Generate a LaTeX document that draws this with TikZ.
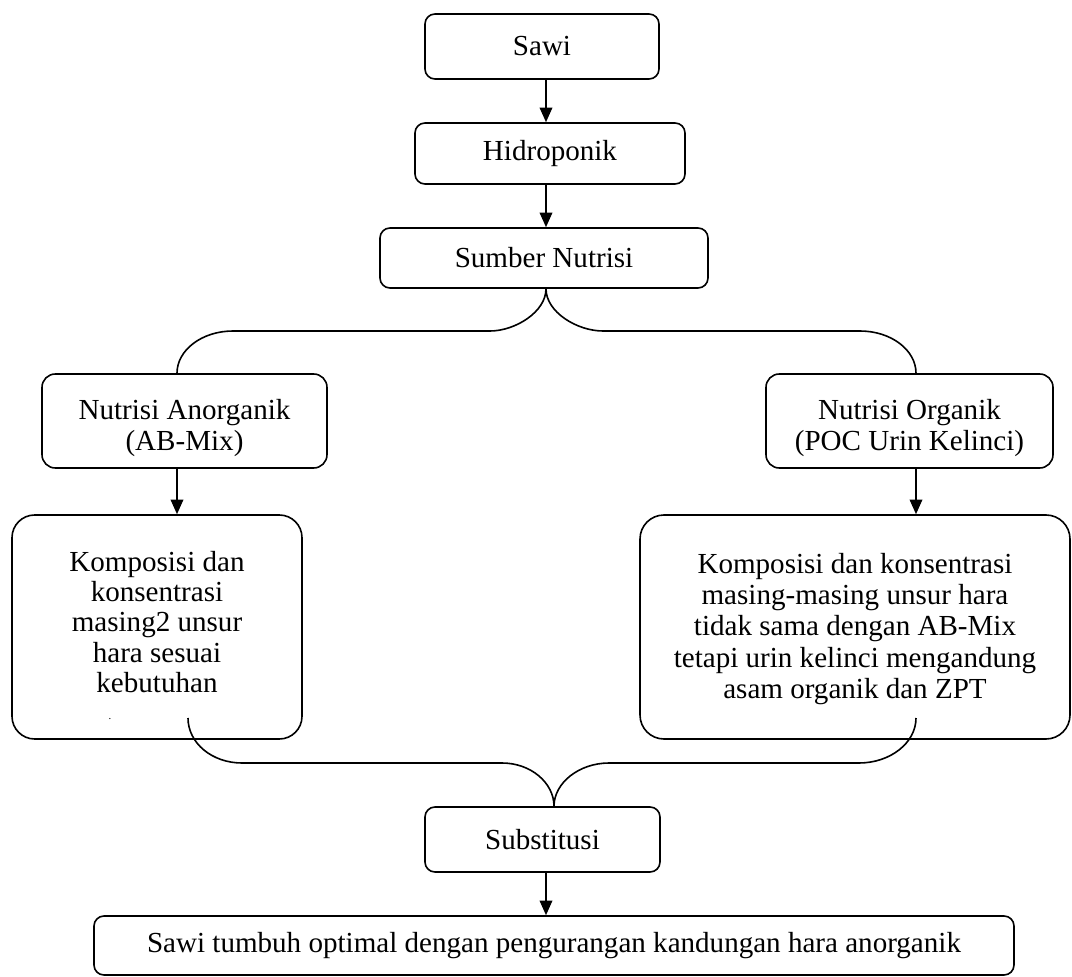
\documentclass[tikz,border=0pt]{standalone}
\usepackage{fontspec}
\setmainfont{Liberation Serif}
\usetikzlibrary{arrows.meta,calc}
\newcommand{\fs}{\fontsize{21.8}{23.6}\selectfont}
\begin{document}
\begin{tikzpicture}[x=0.75pt,y=-0.75pt,
  box/.style={draw,line width=1.2pt,rounded corners=7.5pt,inner sep=0pt,align=center,font=\fs},
  txt/.style={font=\fs,align=center,inner sep=0pt},
  conn/.style={line width=1.2pt},
  arr/.style={line width=1.2pt,-{Triangle[length=11pt,width=9.5pt]}}]
\useasboundingbox (0,0) rectangle (1072,977);

\node[box,minimum width=175.5pt,minimum height=48.75pt] (sawi) at (542,46.5) {Sawi};
\node[box,minimum width=202.5pt,minimum height=45.75pt] (hidro) at (550,153.5) {Hidroponik};
\node[box,minimum width=246pt,minimum height=45pt] (sumber) at (544,258) {Sumber Nutrisi};
\node[box,rounded corners=10pt,minimum width=213.75pt,minimum height=70.5pt] (anorg) at (184.5,421) {};
\node[txt] (anorgtext) at (184.5,428) {Nutrisi Anorganik\\(AB-Mix)};
\node[box,rounded corners=10pt,minimum width=215.25pt,minimum height=70.5pt] (org) at (909.5,421) {};
\node[txt] (orgtext) at (909.5,428) {Nutrisi Organik\\(POC Urin Kelinci)};
\node[box,rounded corners=17pt,minimum width=217.5pt,minimum height=168pt] (leftbig) at (157,627) {};
\node[font=\fontsize{21.8}{22.6}\selectfont,align=center,inner sep=0pt] (lefttext) at (157,622) {Komposisi dan\\konsentrasi\\masing2 unsur\\hara sesuai\\kebutuhan};
\node[anchor=base,inner sep=0pt,font=\fontsize{8}{8}\selectfont] (dot) at (110,719) {.};
\node[box,rounded corners=18pt,minimum width=322.5pt,minimum height=168pt] (rightbig) at (855,627) {};
\node[txt] (righttext) at (855,629) {Komposisi dan konsentrasi\\masing-masing unsur hara\\tidak sama dengan AB-Mix\\tetapi urin kelinci mengandung\\asam organik dan ZPT};
\node[box,minimum width=176.25pt,minimum height=48.75pt] (subst) at (542.5,839.5) {Substitusi};
\node[box,minimum width=690pt,minimum height=44.25pt] (final) at (554,945.5) {Sawi tumbuh optimal dengan pengurangan kandungan hara anorganik};

\coordinate (c1) at (546,0);
\coordinate (cl) at (177,0);
\coordinate (cr) at (916,0);
\coordinate (cm) at (554,0);
\coordinate (lstart) at (188,718);
\coordinate (rstart) at (916,718);

\draw[arr] (sawi.south -| c1) -- (hidro.north -| c1);
\draw[arr] (hidro.south -| c1) -- (sumber.north -| c1);

\draw[conn] (sumber.south -| c1) .. controls (546,312) and (515,331) .. (490,331) -- (233,331)
  .. controls (202,331) and (177,350) .. (anorg.north -| cl);
\draw[conn] (sumber.south -| c1) .. controls (546,312) and (577,331) .. (603,331) -- (860,331)
  .. controls (891,331) and (916,350) .. (org.north -| cr);

\draw[arr] (anorg.south -| cl) -- (leftbig.north -| cl);
\draw[arr] (org.south -| cr) -- (rightbig.north -| cr);

\draw[conn] (lstart) .. controls (188,743) and (212,763) .. (242,763) -- (502,763)
  .. controls (531,763) and (554,783) .. (subst.north -| cm);
\draw[conn] (rstart) .. controls (916,743) and (890,763) .. (859,763) -- (609,763)
  .. controls (579,763) and (554,783) .. (subst.north -| cm);

\draw[arr] (subst.south -| c1) -- (final.north -| c1);
\end{tikzpicture}
\end{document}
